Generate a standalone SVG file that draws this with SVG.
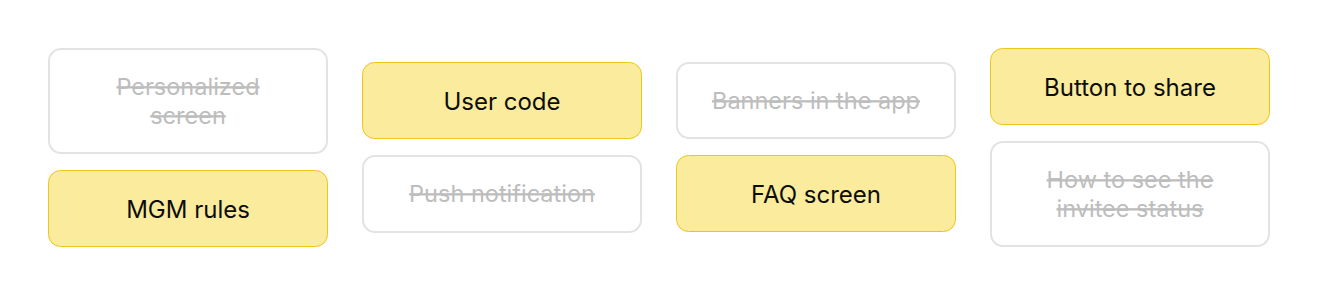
<svg xmlns="http://www.w3.org/2000/svg" width="1318" height="295" viewBox="0 0 1318 295">
<style>
.on rect{fill:#fbeb9c;stroke:#eec61a;stroke-width:1}
.off rect{fill:#ffffff;stroke:#e3e3e3;stroke-width:2}
text{font-family:Inter,"Noto Sans","Liberation Sans",sans-serif;font-size:23.5px;text-anchor:middle}
.on text{fill:#0d0d0d;font-size:24px}
.off text{fill:#bdbdbd;text-decoration:line-through}
</style>
<rect width="1318" height="295" fill="#ffffff"/>
<g id="connectors"/>
<g id="personalized-screen" class="off">
<rect x="49" y="49" width="278" height="104" rx="12"/>
<text x="188" y="95">Personalized</text>
<text x="188" y="124">screen</text>
</g>
<g id="mgm-rules" class="on">
<rect x="48.5" y="170.5" width="279" height="76" rx="12"/>
<text x="188" y="218">MGM rules</text>
</g>
<g id="user-code" class="on">
<rect x="362.5" y="62.5" width="279" height="76" rx="12"/>
<text x="502" y="110">User code</text>
</g>
<g id="push-notification" class="off">
<rect x="363" y="156" width="278" height="76" rx="12"/>
<text x="502" y="202">Push notification</text>
</g>
<g id="banners-in-the-app" class="off">
<rect x="677" y="63" width="278" height="75" rx="12"/>
<text x="816" y="109">Banners in the app</text>
</g>
<g id="faq-screen" class="on">
<rect x="676.5" y="155.5" width="279" height="76" rx="12"/>
<text x="816" y="203">FAQ screen</text>
</g>
<g id="button-to-share" class="on">
<rect x="990.5" y="48.5" width="279" height="76" rx="12"/>
<text x="1130" y="96">Button to share</text>
</g>
<g id="invitee-status" class="off">
<rect x="991" y="142" width="278" height="104" rx="12"/>
<text x="1130" y="188">How to see the</text>
<text x="1130" y="217">invitee status</text>
</g>
</svg>
